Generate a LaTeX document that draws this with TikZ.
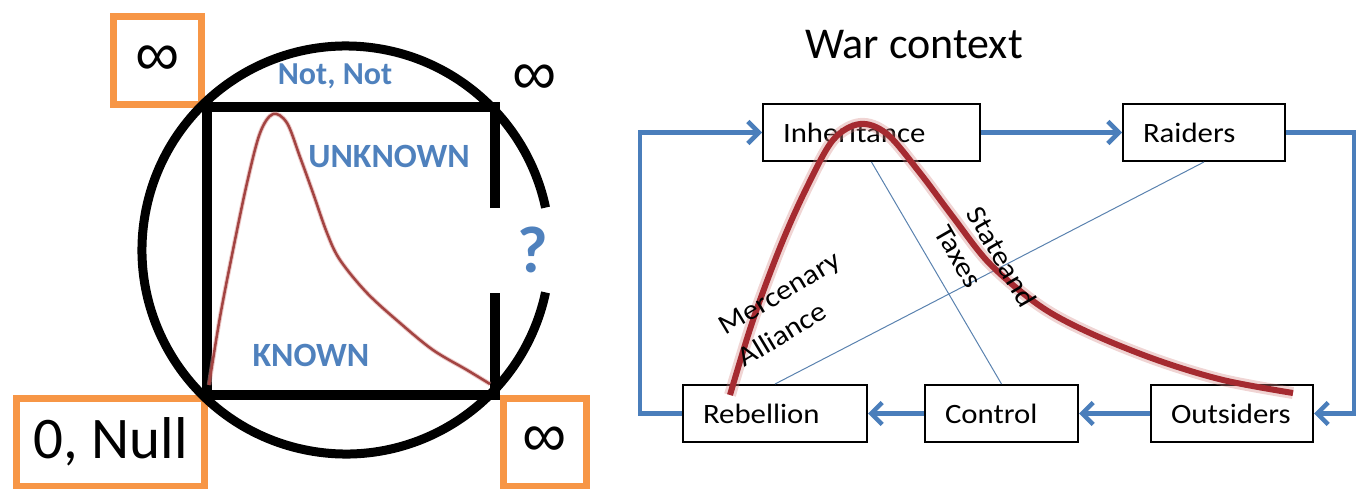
\documentclass[tikz,border=0pt]{standalone}
\usepackage{fontspec}
\setmainfont{Carlito}
\newfontfamily\symf{Liberation Sans}
\newfontfamily\boxf[FakeStretch=1.1]{Carlito}
\usetikzlibrary{arrows.meta}
\definecolor{tblue}{RGB}{79,129,189}
\definecolor{cblue}{RGB}{74,126,187}
\definecolor{lblue}{RGB}{90,130,175}
\definecolor{orng}{RGB}{247,150,70}
\definecolor{redc}{RGB}{192,80,77}
\definecolor{dred}{RGB}{165,42,48}
\newcommand{\fsbox}{\fontsize{28}{37}\selectfont\boxf}
\newcommand{\fsinf}{\fontsize{62}{70}\selectfont\symf}
\newcommand{\fsblue}{\fontsize{34}{40}\selectfont\bfseries}
\begin{document}
\begin{tikzpicture}[x=1pt,y=-1pt,
  obox/.style={draw=orng, line width=7pt, inner sep=0pt},
  wbox/.style={draw=black, line width=2pt, minimum height=57pt, inner xsep=20pt, inner ysep=0pt, align=left, font=\fsbox},
  conn/.style={draw=cblue, line width=4.5pt},
  arr/.style={-{Straight Barb[length=11pt,width=22pt]}},
  thinline/.style={draw=lblue, line width=1pt},
  bluetxt/.style={text=tblue, font=\fsblue, inner sep=0pt},
  heavy/.style={line width=10pt, black},
  rtext/.style={font=\fsbox, align=left, inner sep=0pt}
]
\useasboundingbox (0,0) rectangle (1358,488);

% ---------- left part ----------
\node[obox, minimum width=88pt, minimum height=88pt] (tl) at (157.5,60.5) {\fsinf ∞};
\node[obox, minimum width=188pt, minimum height=88pt, font=\fontsize{59}{64}\selectfont] (nul) at (110.5,442) {0, Null};
\node[obox, minimum width=83pt, minimum height=88pt] (br) at (545,442) {\fsinf ∞};
\node[inner sep=0pt] (tr) at (535,80) {\fsinf ∞};

\draw[line width=9pt] (346,250) ++(12:204) arc[start angle=12, end angle=348, radius=204];
\draw[heavy, line join=miter] (495,208) -- (495,107) -- (207,107) -- (207,395) -- (495,395) -- (495,293);

\draw[redc!60, line width=4.5pt, opacity=0.5] plot[smooth, tension=0.55] coordinates {(209,385) (220,317) (233,250) (247,183) (260,133) (273,114) (287,123) (300,157) (313,193) (327,233) (340,260) (367,293) (400,323) (433,350) (467,370) (490,384)};
\draw[redc!85!black, line width=2.5pt] plot[smooth, tension=0.55] coordinates {(209,385) (220,317) (233,250) (247,183) (260,133) (273,114) (287,123) (300,157) (313,193) (327,233) (340,260) (367,293) (400,323) (433,350) (467,370) (490,384)};

\node[bluetxt, font=\fontsize{32}{36}\selectfont\bfseries] (nn) at (335,76) {Not, Not};
\node[bluetxt] (unk) at (389,156) {UNKNOWN};
\node[bluetxt] (kn) at (311,355) {KNOWN};
\node[bluetxt, font=\fontsize{66}{70}\selectfont\bfseries] (q) at (533,250) {?};

% ---------- right part ----------
\node[font=\fontsize{44}{50}\selectfont, inner sep=0pt] (title) at (914,45) {War context};

\node[wbox, text width=177pt] (inh) at (871.5,132.5) {Inheritance};
\node[wbox, text width=122pt] (rai) at (1204,132.5) {Raiders};
\node[wbox, text width=144pt] (reb) at (775,413.5) {Rebellion};
\node[wbox, text width=113pt] (con) at (1001.5,413.5) {Control};
\node[wbox, text width=122pt] (out) at (1232,413.5) {Outsiders};

\coordinate (lc) at (640,413.5);
\coordinate (rc) at (1354,132.5);

\draw[thinline] (inh.south) -- (con.north);
\draw[thinline] (rai.south) -- (reb.north);

\draw[conn, arr] (reb.west) -- (lc) |- (inh.west);
\draw[conn, arr] (inh.east) -- (rai.west);
\draw[conn, arr] (rai.east) -- (rc) |- (out.east);
\draw[conn, arr] (out.west) -- (con.east);
\draw[conn, arr] (con.west) -- (reb.east);

\draw[redc!70, line width=12pt, opacity=0.35] plot[smooth, tension=0.55] coordinates {(730,395) (753,320) (781,245) (807,187) (833,140) (860,124) (887,134) (920,173) (953,217) (990,264) (1040,306) (1090,333) (1157,360) (1223,380) (1293,393)};
\draw[dred, line width=6pt] plot[smooth, tension=0.55] coordinates {(730,395) (753,320) (781,245) (807,187) (833,140) (860,124) (887,134) (920,173) (953,217) (990,264) (1040,306) (1090,333) (1157,360) (1223,380) (1293,393)};

\node[rtext, rotate=31] (merc) at (789,309) {Mercenary\\Alliance};
\node[rtext, rotate=-60] (state) at (986,266) {Stateand\\Taxes};
\end{tikzpicture}
\end{document}
